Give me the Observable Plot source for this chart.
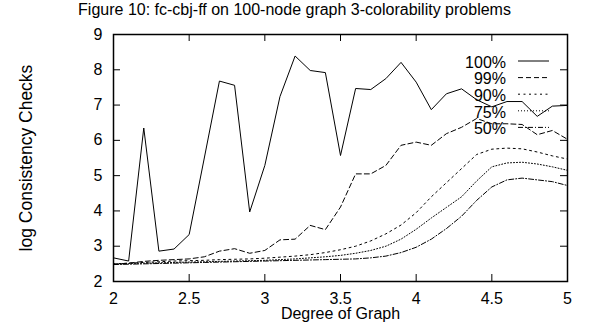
<!DOCTYPE html>
<html>
<head>
<meta charset="utf-8">
<script src="https://cdn.jsdelivr.net/npm/d3@7"></script>
<script src="https://cdn.jsdelivr.net/npm/@observablehq/plot@0.6"></script>
<style>
  html, body { margin: 0; padding: 0; background: white; }
</style>
</head>
<body>
<div id="chart"></div>
<script>
// ---- data ----
const degree = [2.0, 2.1, 2.2, 2.3, 2.4, 2.5, 2.6, 2.7, 2.8, 2.9, 3.0, 3.1, 3.2, 3.3, 3.4, 3.5, 3.6, 3.7, 3.8, 3.9, 4.0, 4.1, 4.2, 4.3, 4.4, 4.5, 4.6, 4.7, 4.8, 4.9, 5.0];
const p100 = [2.67, 2.58, 6.35, 2.86, 2.92, 3.33, 5.5, 7.68, 7.56, 3.97, 5.29, 7.24, 8.39, 7.98, 7.92, 5.57, 7.47, 7.44, 7.75, 8.21, 7.65, 6.87, 7.32, 7.46, 7.15, 6.95, 7.1, 7.1, 6.68, 6.97, 6.99];
const p99  = [2.48, 2.52, 2.57, 2.6, 2.62, 2.64, 2.7, 2.86, 2.93, 2.8, 2.88, 3.18, 3.2, 3.59, 3.47, 4.11, 5.05, 5.05, 5.29, 5.86, 5.95, 5.86, 6.19, 6.37, 6.62, 6.47, 6.47, 6.45, 6.16, 6.28, 6.03];
const p90  = [2.5, 2.52, 2.54, 2.56, 2.58, 2.59, 2.6, 2.62, 2.63, 2.64, 2.66, 2.69, 2.72, 2.76, 2.82, 2.9, 3.0, 3.15, 3.35, 3.6, 3.95, 4.4, 4.8, 5.2, 5.6, 5.75, 5.78, 5.76, 5.67, 5.56, 5.47];
const p75  = [2.5, 2.51, 2.52, 2.53, 2.54, 2.55, 2.56, 2.57, 2.58, 2.59, 2.6, 2.62, 2.64, 2.67, 2.7, 2.74, 2.8, 2.88, 3.0, 3.2, 3.48, 3.8, 4.1, 4.4, 4.85, 5.25, 5.36, 5.38, 5.33, 5.25, 5.15];
const p50  = [2.48, 2.49, 2.5, 2.51, 2.52, 2.53, 2.54, 2.55, 2.56, 2.57, 2.58, 2.59, 2.6, 2.61, 2.62, 2.63, 2.64, 2.67, 2.72, 2.82, 2.97, 3.2, 3.5, 3.85, 4.3, 4.68, 4.88, 4.93, 4.88, 4.83, 4.72];
const seriesNames = ["100%", "99%", "90%", "75%", "50%"];
const xTicks = [2, 2.5, 3, 3.5, 4, 4.5, 5];
const yTicks = [2, 3, 4, 5, 6, 7, 8, 9];
const titleText = "Figure 10: fc-cbj-ff on 100-node graph 3-colorability problems";
const xLabel = "Degree of Graph";
const yLabel = "log Consistency Checks";

// ---- layout / style ----
const W = 589, H = 327;
const mL = 113, mR = 22, mT = 34, mB = 46;
const innerW = W - mL - mR, innerH = H - mT - mB;
const tickLen = 7;
const dashes = ["none", "5,3", "2,3.5", "1,2", "5,2,1,2"];
const FONT = "'Liberation Sans', Arial, Helvetica, sans-serif";

const series = [p100, p99, p90, p75, p50];
const rows = [];
series.forEach((vals, s) => {
  degree.forEach((d, i) => rows.push({degree: d, value: vals[i], name: seriesNames[s]}));
});

function legend(index, scales, values, dims) {
  const g = d3.create("svg:g");
  const right = dims.width - dims.marginRight;
  const top = dims.marginTop;
  seriesNames.forEach((name, i) => {
    const y = top + 28 + i * 16.6;
    g.append("text")
      .attr("x", right - 61)
      .attr("y", y)
      .attr("dy", "0.36em")
      .attr("text-anchor", "end")
      .attr("font-size", 16)
      .attr("font-family", FONT)
      .attr("fill", "black")
      .text(name);
    g.append("line")
      .attr("x1", right - 49).attr("x2", right - 18)
      .attr("y1", y - 1).attr("y2", y - 1)
      .attr("stroke", "black")
      .attr("stroke-width", 1)
      .attr("stroke-dasharray", dashes[i]);
  });
  return g.node();
}

const chart = Plot.plot({
  width: W,
  height: H,
  marginLeft: mL,
  marginRight: mR,
  marginTop: mT,
  marginBottom: mB,
  style: {fontFamily: FONT, fontSize: "16px", background: "white", color: "black", overflow: "visible"},
  x: {domain: [2, 5]},
  y: {domain: [2, 9]},
  marks: [
    // data lines
    ...seriesNames.map((name, s) =>
      Plot.line(rows.filter(r => r.name === name), {
        x: "degree", y: "value", stroke: "black", strokeWidth: 1,
        strokeDasharray: dashes[s] === "none" ? null : dashes[s]
      })
    ),
    // inward ticks on all four sides
    Plot.tickX(xTicks, {x: d => d, insetTop: innerH - tickLen, stroke: "black"}),
    Plot.tickX(xTicks, {x: d => d, insetBottom: innerH - tickLen, stroke: "black"}),
    Plot.tickY(yTicks, {y: d => d, insetRight: innerW - tickLen, stroke: "black"}),
    Plot.tickY(yTicks, {y: d => d, insetLeft: innerW - tickLen, stroke: "black"}),
    Plot.frame({stroke: "black", strokeWidth: 1.5}),
    Plot.axisX(xTicks, {tickSize: 0, tickPadding: 11, tickFormat: d => String(d), label: null, fontSize: 16}),
    Plot.axisY(yTicks, {tickSize: 0, tickPadding: 11, tickFormat: d => String(d), label: null, fontSize: 16}),
    // title and axis labels
    Plot.text([titleText], {frameAnchor: "top", dx: -46, dy: -19.5, lineAnchor: "bottom", textAnchor: "middle", text: d => d, fontSize: 16, fill: "black"}),
    Plot.text([xLabel], {frameAnchor: "bottom", dy: 37.5, lineAnchor: "bottom", textAnchor: "middle", text: d => d, fontSize: 16, fill: "black"}),
    Plot.text([yLabel], {frameAnchor: "left", dx: -87.5, rotate: -90, lineAnchor: "middle", textAnchor: "middle", text: d => d, fontSize: 17.5, fill: "black"}),
    legend
  ]
});
document.getElementById("chart").appendChild(chart);
</script>
</body>
</html>
